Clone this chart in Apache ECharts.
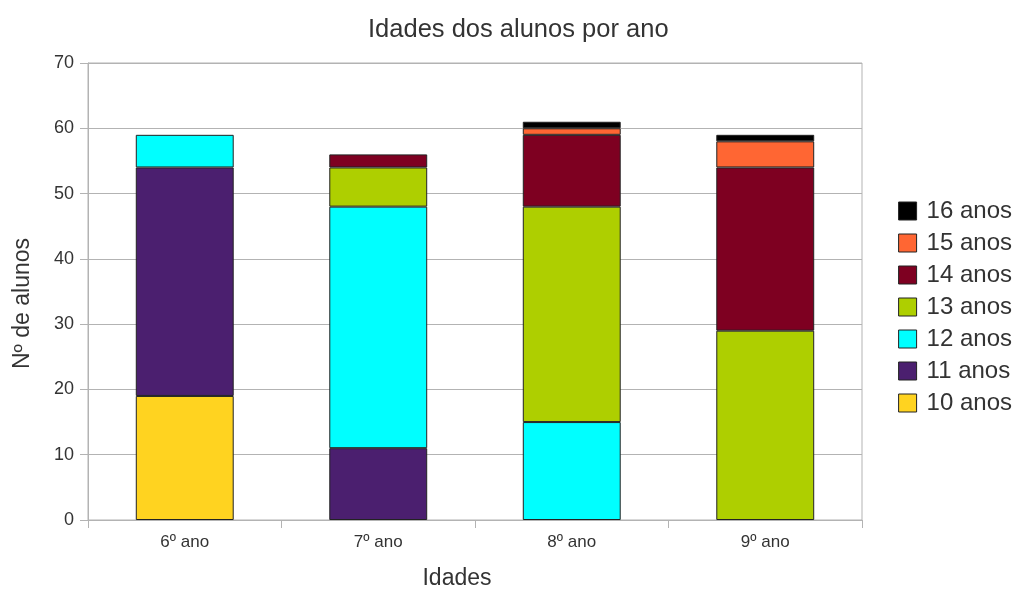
<!DOCTYPE html>
<html>
<head>
<meta charset="utf-8">
<script src="https://cdn.jsdelivr.net/npm/echarts@6/dist/echarts.min.js"></script>
<style>
html,body{margin:0;padding:0;background:#fff;}
#chart{width:1015px;height:589px;}
</style>
</head>
<body>
<div id="chart"></div>
<script>
// School years on the x axis
const categories = ['6º ano', '7º ano', '8º ano', '9º ano'];
// Number of students of each age, per school year
const age10 = [19, null, null, null];
const age11 = [35, 11, null, null];
const age12 = [5, 37, 15, null];
const age13 = [null, 6, 33, 29];
const age14 = [null, 2, 11, 25];
const age15 = [null, null, 1, 4];
const age16 = [null, null, 1, 1];
const seriesNames = ['10 anos', '11 anos', '12 anos', '13 anos', '14 anos', '15 anos', '16 anos'];
const seriesValues = [age10, age11, age12, age13, age14, age15, age16];
const colors = ['#ffd320', '#4b1f6f', '#00ffff', '#aecf00', '#7e0021', '#ff6633', '#000000'];
const yTicks = [0, 10, 20, 30, 40, 50, 60, 70];

const font = 'Liberation Sans, Arial, sans-serif';
const chart = echarts.init(document.getElementById('chart'));
chart.setOption({
  animation: false,
  backgroundColor: '#ffffff',
  title: {
    text: 'Idades dos alunos por ano',
    left: 363,
    top: 12,
    textStyle: { fontFamily: font, fontSize: 25.5, fontWeight: 'normal', color: '#333333' }
  },
  legend: {
    orient: 'vertical',
    right: -2,
    top: 194,
    itemWidth: 18,
    itemHeight: 18,
    itemGap: 8,
    icon: 'rect',
    data: seriesNames.slice().reverse(),
    textStyle: { fontFamily: font, fontSize: 24, color: '#333333', padding: [0, 0, 0, 5] },
    itemStyle: { borderColor: '#222222', borderWidth: 1 }
  },
  grid: { left: 88, right: 153, top: 63, bottom: 69, containLabel: false,
    outerBoundsMode: 'none',
    show: true, borderColor: '#b3b3b3', borderWidth: 1 },
  xAxis: {
    type: 'category',
    data: categories,
    name: 'Idades',
    nameLocation: 'middle',
    nameGap: 47,
    nameTextStyle: { fontFamily: font, fontSize: 23, color: '#333333', padding: [0, 36, 0, 0] },
    axisLine: { lineStyle: { color: '#b3b3b3', width: 1 } },
    axisTick: { show: true, length: 8, lineStyle: { color: '#b3b3b3' } },
    axisLabel: { fontFamily: font, fontSize: 17, color: '#333333', margin: 14 }
  },
  yAxis: {
    type: 'value',
    min: yTicks[0],
    max: yTicks[yTicks.length - 1],
    interval: 10,
    name: 'Nº de alunos',
    nameLocation: 'middle',
    nameGap: 54,
    nameTextStyle: { fontFamily: font, fontSize: 23, color: '#333333', padding: [0, 24, 0, 0] },
    axisLine: { show: true, lineStyle: { color: '#b3b3b3', width: 1 } },
    axisTick: { show: true, length: 8, lineStyle: { color: '#b3b3b3' } },
    axisLabel: { fontFamily: font, fontSize: 18, color: '#333333', margin: 14 },
    splitLine: { lineStyle: { color: '#b3b3b3', width: 1 } }
  },
  series: seriesNames.map((name, i) => ({
    name: name,
    type: 'bar',
    stack: 'total',
    data: seriesValues[i],
    barWidth: '50.6%',
    itemStyle: { color: colors[i], borderColor: '#222222', borderWidth: 1 }
  }))
});
</script>
</body>
</html>
